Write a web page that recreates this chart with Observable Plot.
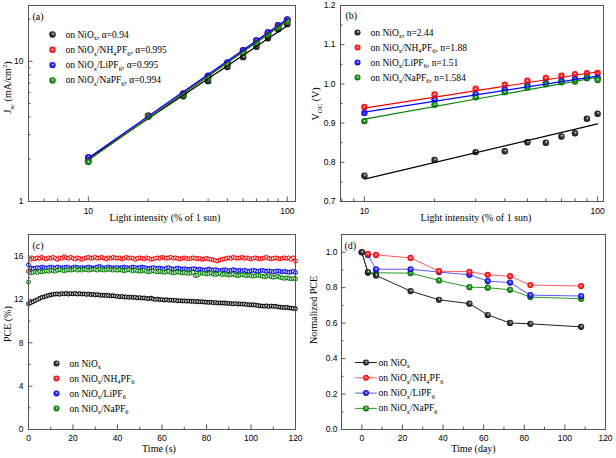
<!DOCTYPE html>
<html><head><meta charset="utf-8">
<script src="https://cdn.jsdelivr.net/npm/d3@7"></script>
<script src="https://cdn.jsdelivr.net/npm/@observablehq/plot@0.6"></script>
<style>
html,body{margin:0;padding:0;background:#fff;}
#fig{position:relative;width:616px;height:458px;background:#fff;overflow:hidden;}
.panel{position:absolute;width:308px;height:229px;}
</style></head><body>
<div id="fig"></div>
<script>
// ---------- DATA ----------
const seriesNames = ["on NiO_{x}", "on NiO_{x}/NH_{4}PF_{6}", "on NiO_{x}/LiPF_{6}", "on NiO_{x}/NaPF_{6}"];
const alphaLabels = ["α=0.94", "α=0.995", "α=0.995", "α=0.994"];
const idealityLabels = ["n=2.44", "n=1.88", "n=1.51", "n=1.584"];

// (a) Jsc vs light intensity
const intensity = [10, 20, 30, 40, 50, 60, 70, 80, 90, 100];
const jscNiOx   = [2.05, 4.04, 5.63, 7.22, 9.1, 10.7, 12.7, 14.6, 16.9, 18.4];
const jscNH4PF6 = [1.96, 4.08, 5.85, 7.8, 9.6, 11.9, 14.0, 15.8, 17.9, 19.7];
const jscLiPF6  = [2.07, 4.08, 5.88, 7.9, 9.8, 12.0, 14.1, 16.1, 18.1, 19.9];
const jscNaPF6  = [1.91, 4.04, 5.75, 7.6, 9.5, 11.5, 13.5, 15.5, 17.4, 19.2];
const fitIntensity = [10, 100];
const jscFitNiOx   = [2.03, 17.9];
const jscFitNH4PF6 = [1.98, 19.6];
const jscFitLiPF6  = [2.04, 20.0];
const jscFitNaPF6  = [1.98, 19.4];

// (b) Voc vs light intensity
const vocNiOx   = [0.766, 0.806, 0.826, 0.828, 0.851, 0.850, 0.866, 0.874, 0.911, 0.924];
const vocNH4PF6 = [0.941, 0.973, 0.988, 0.998, 1.008, 1.015, 1.021, 1.025, 1.027, 1.028];
const vocLiPF6  = [0.926, 0.960, 0.974, 0.985, 0.996, 1.002, 1.008, 1.012, 1.015, 1.016];
const vocNaPF6  = [0.905, 0.947, 0.966, 0.979, 0.991, 0.999, 1.004, 1.006, 1.015, 1.010];
const vocFitNiOx   = [0.757, 0.898];
const vocFitNH4PF6 = [0.938, 1.031];
const vocFitLiPF6  = [0.928, 1.020];
const vocFitNaPF6  = [0.910, 1.017];

// (c) PCE vs time (one reading per second)
const timeS = d3.range(0, 121);
const pceNiOx = [
11.6,11.7,11.8,11.9,12.0,12.1,12.2,12.25,12.3,12.38,
12.42,12.48,12.5,12.52,12.48,12.55,12.52,12.56,12.5,12.55,
12.52,12.56,12.5,12.54,12.5,12.53,12.47,12.5,12.45,12.48,
12.42,12.45,12.4,12.38,12.41,12.36,12.38,12.33,12.35,12.3,
12.3,12.25,12.28,12.22,12.25,12.2,12.23,12.18,12.2,12.15,
12.18,12.12,12.15,12.1,12.08,12.12,12.05,12.0,12.04,11.98,
12.0,11.95,11.98,11.93,11.95,11.9,11.93,11.88,11.9,11.86,
11.88,11.84,11.86,11.82,11.84,11.8,11.82,11.78,11.8,11.76,
11.75,11.73,11.75,11.7,11.72,11.68,11.7,11.66,11.68,11.64,
11.65,11.62,11.6,11.63,11.58,11.6,11.56,11.58,11.54,11.52,
11.5,11.52,11.48,11.45,11.42,11.4,11.38,11.42,11.35,11.4,
11.36,11.38,11.32,11.3,11.28,11.25,11.28,11.22,11.2,11.18,
11.15];
const pceNH4PF6 = [
14.6,15.7,15.8,15.75,15.85,15.8,15.9,15.8,15.75,15.85,
15.8,15.9,15.8,15.7,15.85,15.8,15.95,15.85,15.8,15.9,
15.8,15.75,15.85,15.8,15.7,15.8,15.85,15.9,15.8,15.85,
15.9,15.8,15.85,15.9,15.8,15.75,15.85,15.8,15.9,15.85,
15.8,15.85,15.75,15.8,15.9,15.8,15.85,15.8,15.7,15.8,
15.85,15.8,15.75,15.85,15.8,15.7,15.75,15.8,15.85,15.8,
15.9,15.85,15.8,15.85,15.9,15.8,15.85,15.8,15.75,15.8,
15.85,15.8,15.75,15.8,15.85,15.8,15.75,15.8,15.7,15.75,
15.8,15.75,15.7,15.65,15.6,15.55,15.65,15.7,15.75,15.8,
15.85,15.8,15.9,15.85,15.8,15.85,15.9,15.8,15.85,15.8,
15.75,15.8,15.85,15.8,15.75,15.8,15.85,15.9,15.8,15.75,
15.8,15.85,15.8,15.75,15.8,15.85,15.8,15.85,15.7,15.85,
15.55];
const pceLiPF6 = [
15.2,14.9,14.85,14.9,14.95,14.9,15.0,14.95,14.9,14.95,
15.0,14.95,14.9,15.0,14.95,14.9,14.95,15.0,14.95,14.9,
14.95,15.0,14.95,14.9,14.95,14.9,14.95,15.0,14.95,14.9,
14.95,15.0,15.05,14.95,14.9,14.95,15.0,14.95,14.9,14.95,
14.95,14.9,14.95,15.0,14.95,14.9,14.95,15.0,14.95,14.9,
14.95,15.0,14.95,14.9,14.85,14.9,14.95,14.9,14.85,14.9,
14.85,14.8,14.9,14.95,14.85,14.8,14.85,14.9,14.85,14.8,
14.85,14.8,14.75,14.8,14.85,14.8,14.75,14.8,14.75,14.7,
14.75,14.8,14.75,14.7,14.75,14.7,14.65,14.7,14.75,14.7,
14.65,14.7,14.75,14.7,14.65,14.7,14.65,14.7,14.65,14.6,
14.65,14.7,14.65,14.6,14.65,14.7,14.65,14.6,14.65,14.6,
14.55,14.6,14.65,14.6,14.55,14.6,14.55,14.5,14.55,14.6,
14.5];
const pceNaPF6 = [
13.6,14.45,14.5,14.55,14.5,14.6,14.55,14.6,14.65,14.6,
14.7,14.65,14.6,14.7,14.75,14.7,14.65,14.7,14.75,14.7,
14.75,14.8,14.7,14.75,14.7,14.8,14.75,14.7,14.75,14.8,
14.75,14.7,14.8,14.75,14.7,14.75,14.8,14.75,14.7,14.75,
14.7,14.75,14.7,14.65,14.7,14.75,14.7,14.65,14.7,14.65,
14.6,14.65,14.7,14.6,14.55,14.6,14.65,14.6,14.55,14.6,
14.55,14.5,14.55,14.6,14.5,14.45,14.5,14.55,14.5,14.45,
14.5,14.45,14.4,14.45,14.5,14.2,14.25,14.4,14.45,14.4,
14.35,14.4,14.45,14.35,14.3,14.35,14.4,14.3,14.35,14.3,
14.25,14.3,14.35,14.25,14.2,14.25,14.3,14.25,14.2,14.25,
14.2,14.15,14.2,14.25,14.2,14.15,14.1,14.15,14.2,14.1,
14.05,14.1,14.15,14.05,14.0,13.95,14.0,13.95,13.9,13.95,
13.9];

// (d) normalized PCE vs storage time
const days = [0, 3, 7, 24, 38, 53, 62, 73, 83, 108];
const normNiOx   = [1.0, 0.888, 0.869, 0.781, 0.732, 0.710, 0.646, 0.601, 0.596, 0.579];
const normNH4PF6 = [1.0, 0.991, 0.985, 0.968, 0.893, 0.890, 0.873, 0.865, 0.815, 0.809];
const normLiPF6  = [1.0, 0.985, 0.904, 0.904, 0.888, 0.873, 0.837, 0.829, 0.758, 0.753];
const normNaPF6  = [1.0, 0.884, 0.884, 0.882, 0.841, 0.803, 0.800, 0.788, 0.747, 0.738];

// tick values
const aXMajor = [10, 100], aXMinor = [5, 6, 7, 8, 9, 20, 30, 40, 50, 60, 70, 80, 90];
const aYMajor = [1, 10], aYMinor = [2, 3, 4, 5, 6, 7, 8, 9, 20];
const bXMajor = [10, 100], bXMinor = [8, 9, 20, 30, 40, 50, 60, 70, 80, 90];
const bYMajor = [0.7, 0.8, 0.9, 1.0, 1.1, 1.2], bYMinor = [0.75, 0.85, 0.95, 1.05, 1.15];
const cXMajor = [0, 20, 40, 60, 80, 100, 120], cXMinor = [10, 30, 50, 70, 90, 110];
const cYMajor = [0, 4, 8, 12, 16], cYMinor = [2, 6, 10, 14, 18];
const dXMajor = [0, 20, 40, 60, 80, 100, 120], dXMinor = [-10, 10, 30, 50, 70, 90, 110];
const dYMajor = [0, 0.2, 0.4, 0.6, 0.8, 1.0], dYMinor = [0.1, 0.3, 0.5, 0.7, 0.9];

// ---------- STYLE ----------
const FRAME = "#555";
const SERIF = "Liberation Serif";
const SANS = "Liberation Sans";
const colors = ["#000000", "#ff0000", "#0000ff", "#008000"];
const lineColorsD = ["#222222", "#ff5a5a", "#5a5aff", "#2a9a2a"];
const ballIds = ["bK", "bR", "bB", "bG"];
const ringIds = ["rK", "rR", "rB", "rG"];

const fig = d3.select("#fig");
const defs = fig.append("svg").attr("width", 0).attr("height", 0)
  .style("position", "absolute").append("defs");
function grad(id, stops, fx, fy) {
  const g = defs.append("radialGradient").attr("id", id)
    .attr("cx", "50%").attr("cy", "50%").attr("r", "55%").attr("fx", fx).attr("fy", fy);
  stops.forEach(([o, c]) => g.append("stop").attr("offset", o).attr("stop-color", c));
}
grad("bK", [["0%", "#ffffff"], ["30%", "#555"], ["100%", "#000"]], "62%", "35%");
grad("bR", [["0%", "#ffe0e0"], ["35%", "#ff3a3a"], ["100%", "#e00000"]], "50%", "45%");
grad("bB", [["0%", "#e8e8ff"], ["35%", "#3a3aff"], ["100%", "#0000d0"]], "55%", "40%");
grad("bG", [["0%", "#e0ffe0"], ["35%", "#2aa02a"], ["100%", "#006400"]], "55%", "40%");
grad("rK", [["0%", "#f0f0f0"], ["45%", "#bbb"], ["75%", "#000"], ["100%", "#000"]], "50%", "50%");
grad("rR", [["0%", "#f0f0f0"], ["45%", "#ddd"], ["75%", "#ff0000"], ["100%", "#ff0000"]], "50%", "50%");
grad("rB", [["0%", "#f0f0f0"], ["45%", "#ccd"], ["75%", "#0000ff"], ["100%", "#0000ff"]], "50%", "50%");
grad("rG", [["0%", "#f0f0f0"], ["45%", "#cdc"], ["75%", "#008000"], ["100%", "#008000"]], "50%", "50%");

function tickMarks(xMaj, xMin, yMaj, yMin, iw, ih) {
  return [
    Plot.tickX(xMin, {x: d => d, insetTop: ih - 2.5, stroke: FRAME}),
    Plot.tickX(xMaj, {x: d => d, insetTop: ih - 4.5, stroke: FRAME}),
    Plot.tickY(yMin, {y: d => d, insetRight: iw - 2.5, stroke: FRAME}),
    Plot.tickY(yMaj, {y: d => d, insetRight: iw - 4.5, stroke: FRAME})
  ];
}
function textMark(str, o) {
  return Plot.text([str], {text: d => d, fontFamily: SERIF, fontSize: 10, fill: "#000", ...o});
}
function legendMarks(labels, o) {
  const out = [];
  labels.forEach((lab, i) => {
    const dy = o.dy0 + i * o.step;
    if (o.line) out.push(Plot.vector([0], {frameAnchor: "top-left", dx: o.dx, dy, length: 21, rotate: 90,
      anchor: "middle", stroke: o.line[i], strokeWidth: 1,
      shape: {draw(ctx, l) { ctx.moveTo(0, 0); ctx.lineTo(0, -l); }}}));
    out.push(Plot.dot([0], {frameAnchor: "top-left", dx: o.dx, dy, r: o.r, fill: `url(#${ballIds[i]})`}));
    out.push(textMark(lab, {frameAnchor: "top-left", dx: o.tdx, dy, textAnchor: "start", lineAnchor: "middle", fontSize: 9.5}));
  });
  return out;
}
function richText(svg) {
  d3.select(svg).selectAll("text").each(function() {
    const s = this.textContent;
    if (!/[_^]\{/.test(s)) return;
    const fs = parseFloat(getComputedStyle(this).fontSize) || 10;
    const el = d3.select(this);
    el.text(null);
    const re = /([_^])\{([^}]*)\}/g;
    let last = 0, m, shift = 0;
    const add = (str, dy, small) => {
      const t = el.append("tspan").text(str);
      if (dy) t.attr("dy", dy);
      if (small) t.attr("font-size", fs * 0.68);
    };
    while ((m = re.exec(s))) {
      if (m.index > last) { add(s.slice(last, m.index), shift ? -shift : 0); shift = 0; }
      const d = m[1] === "_" ? fs * 0.3 : -fs * 0.4;
      add(m[2], d - shift, true); shift = d;
      last = re.lastIndex;
    }
    if (last < s.length) add(s.slice(last), shift ? -shift : 0);
  });
}
function place(svg, left, top) {
  const d = fig.append("div").attr("class", "panel").style("left", left + "px").style("top", top + "px");
  d.node().appendChild(svg);
  richText(svg);
}
const baseStyle = {fontFamily: SANS, fontSize: "8.5px", background: "white", overflow: "visible"};
const frame = Plot.frame({stroke: FRAME, strokeWidth: 1});
const rows = (xs, ys) => xs.map((x, i) => ({x, y: ys[i]}));

// ---------- PANEL (a) ----------
{
  const m = {l: 28, r: 13, t: 5, b: 28};
  const iw = 308 - m.l - m.r, ih = 229 - m.t - m.b;
  const pts = [jscNiOx, jscNH4PF6, jscLiPF6, jscNaPF6];
  const fits = [jscFitNiOx, jscFitNH4PF6, jscFitLiPF6, jscFitNaPF6];
  const p = Plot.plot({
    width: 308, height: 229, marginLeft: m.l, marginRight: m.r, marginTop: m.t, marginBottom: m.b,
    style: baseStyle,
    x: {type: "log", domain: [5, 110]},
    y: {type: "log", domain: [1, 25]},
    marks: [
      ...pts.map((ys, i) => Plot.dot(rows(intensity, ys), {x: "x", y: "y", r: i === 1 ? 3.6 : 3.2, fill: `url(#${ballIds[i]})`})),
      ...[0, 1, 3, 2].map(i => Plot.line(rows(fitIntensity, fits[i]), {x: "x", y: "y", stroke: colors[i], strokeWidth: 1.2})),
      frame,
      ...tickMarks(aXMajor, aXMinor, aYMajor, aYMinor, iw, ih),
      Plot.axisX({ticks: aXMajor, tickSize: 0, tickPadding: 6, tickFormat: "d", label: null, fontSize: 8.5}),
      Plot.axisY({ticks: aYMajor, tickSize: 0, tickPadding: 5, tickFormat: "d", label: null, fontSize: 8.5}),
      textMark("(a)", {frameAnchor: "top-left", dx: 4, dy: 14, textAnchor: "start", lineAnchor: "bottom"}),
      textMark("Light intensity (% of 1 sun)", {frameAnchor: "bottom", dx: 3, dy: 19, lineAnchor: "bottom"}),
      textMark("J_{sc} (mA/cm^{2})", {frameAnchor: "left", dx: -21, dy: 10, rotate: -90, lineAnchor: "middle"}),
      ...legendMarks(seriesNames.map((s, i) => `${s}, ${alphaLabels[i]}`), {dx: 24, dy0: 29, step: 15.3, tdx: 37, r: 3.2})
    ]
  });
  place(p, 0, 0);
}

// ---------- PANEL (b) ----------
{
  const m = {l: 32, r: 13, t: 5, b: 28};
  const iw = 308 - m.l - m.r, ih = 229 - m.t - m.b;
  const pts = [vocNiOx, vocNH4PF6, vocLiPF6, vocNaPF6];
  const fits = [vocFitNiOx, vocFitNH4PF6, vocFitLiPF6, vocFitNaPF6];
  const p = Plot.plot({
    width: 308, height: 229, marginLeft: m.l, marginRight: m.r, marginTop: m.t, marginBottom: m.b,
    style: baseStyle,
    x: {type: "log", domain: [7.9, 106]},
    y: {domain: [0.7, 1.2]},
    marks: [
      ...pts.map((ys, i) => Plot.dot(rows(intensity, ys), {x: "x", y: "y", r: 3.2, fill: `url(#${ballIds[i]})`})),
      ...fits.map((ys, i) => Plot.line(rows(fitIntensity, ys), {x: "x", y: "y", stroke: colors[i], strokeWidth: 1.2})),
      frame,
      ...tickMarks(bXMajor, bXMinor, bYMajor, bYMinor, iw, ih),
      Plot.axisX({ticks: bXMajor, tickSize: 0, tickPadding: 6, tickFormat: "d", label: null, fontSize: 8.5}),
      Plot.axisY({ticks: bYMajor, tickSize: 0, tickPadding: 5, tickFormat: ".1f", label: null, fontSize: 8.5}),
      textMark("(b)", {frameAnchor: "top-left", dx: 5, dy: 13, textAnchor: "start", lineAnchor: "bottom"}),
      textMark("Light intensity (% of 1 sun)", {frameAnchor: "bottom", dx: 4, dy: 19, lineAnchor: "bottom"}),
      textMark("V_{OC} (V)", {frameAnchor: "left", dx: -25, dy: 17, rotate: -90, lineAnchor: "middle"}),
      ...legendMarks(seriesNames.map((s, i) => `${s}, ${idealityLabels[i]}`), {dx: 17, dy0: 27, step: 15, tdx: 30, r: 3.0})
    ]
  });
  place(p, 308, 0);
}

// ---------- PANEL (c) ----------
{
  const m = {l: 28, r: 13, t: 5, b: 29};
  const iw = 308 - m.l - m.r, ih = 229 - m.t - m.b;
  const pts = [pceNiOx, pceNH4PF6, pceLiPF6, pceNaPF6];
  const p = Plot.plot({
    width: 308, height: 229, marginLeft: m.l, marginRight: m.r, marginTop: m.t, marginBottom: m.b,
    style: baseStyle,
    x: {domain: [0, 120]},
    y: {domain: [0, 18]},
    marks: [
      ...pts.map((ys, i) => Plot.dot(rows(timeS, ys), {x: "x", y: "y", r: 2.1, fill: `url(#${ringIds[i]})`, stroke: colors[i], strokeWidth: 0.5})),
      frame,
      ...tickMarks(cXMajor, cXMinor, cYMajor, cYMinor, iw, ih),
      Plot.axisX({ticks: cXMajor, tickSize: 0, tickPadding: 5, tickFormat: "d", label: null, fontSize: 8.5}),
      Plot.axisY({ticks: cYMajor, tickSize: 0, tickPadding: 5, tickFormat: "d", label: null, fontSize: 8.5}),
      textMark("(c)", {frameAnchor: "top-left", dx: 4, dy: 14, textAnchor: "start", lineAnchor: "bottom"}),
      textMark("Time (s)", {frameAnchor: "bottom", dx: -3, dy: 22, lineAnchor: "bottom"}),
      textMark("PCE (%)", {frameAnchor: "left", dx: -21, dy: 10, rotate: -90, lineAnchor: "middle"}),
      ...legendMarks(seriesNames, {dx: 28, dy0: 129, step: 15, tdx: 41, r: 3.0})
    ]
  });
  place(p, 0, 229);
}

// ---------- PANEL (d) ----------
{
  const m = {l: 33, r: 11, t: 5, b: 29};
  const iw = 308 - m.l - m.r, ih = 229 - m.t - m.b;
  const pts = [normNiOx, normNH4PF6, normLiPF6, normNaPF6];
  const p = Plot.plot({
    width: 308, height: 229, marginLeft: m.l, marginRight: m.r, marginTop: m.t, marginBottom: m.b,
    style: baseStyle,
    x: {domain: [-10, 120]},
    y: {domain: [0, 1.1]},
    marks: [
      ...[3, 2, 1, 0].map(i => Plot.line(rows(days, pts[i]), {x: "x", y: "y", stroke: lineColorsD[i], strokeWidth: 1})),
      ...[3, 2, 1, 0].map(i => Plot.dot(rows(days, pts[i]), {x: "x", y: "y", r: 3.1, fill: `url(#${ballIds[i]})`})),
      frame,
      ...tickMarks(dXMajor, dXMinor, dYMajor, dYMinor, iw, ih),
      Plot.axisX({ticks: dXMajor, tickSize: 0, tickPadding: 5, tickFormat: "d", label: null, fontSize: 8.5}),
      Plot.axisY({ticks: dYMajor, tickSize: 0, tickPadding: 4, tickFormat: ".1f", label: null, fontSize: 8.5}),
      textMark("(d)", {frameAnchor: "top-left", dx: 3, dy: 14, textAnchor: "start", lineAnchor: "bottom"}),
      textMark("Time (day)", {frameAnchor: "bottom", dx: 0, dy: 22, lineAnchor: "bottom"}),
      textMark("Normalized PCE", {frameAnchor: "left", dx: -28, dy: 12, rotate: -90, lineAnchor: "middle"}),
      ...legendMarks(seriesNames, {dx: 24.5, dy0: 128, step: 15.3, tdx: 37, r: 3.0, line: lineColorsD})
    ]
  });
  place(p, 308, 229);
}
</script>
</body></html>
